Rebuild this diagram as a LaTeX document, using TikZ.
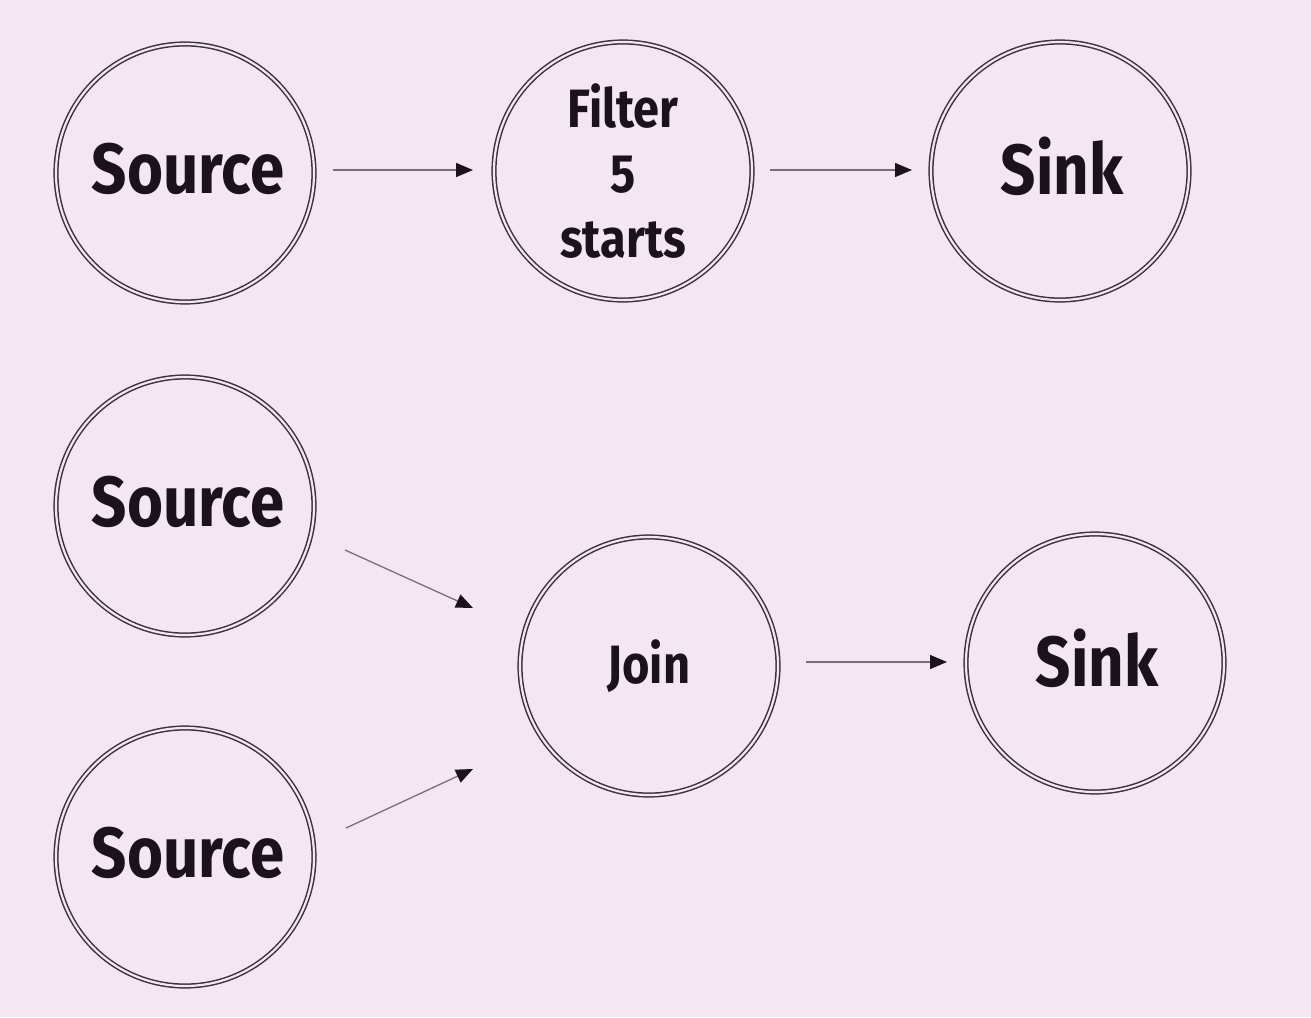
\documentclass[tikz,border=0pt]{standalone}
\usepackage{fontspec}
\setmainfont{Fira Sans}[UprightFont=* SemiBold,BoldFont=* Bold]
\newfontfamily\narrowfont{Fira Sans}[UprightFont=* Bold,FakeStretch=0.87]
\usetikzlibrary{arrows.meta}
\definecolor{bg}{HTML}{F3E7F4}
\definecolor{ring}{HTML}{3E343D}
\definecolor{ink}{HTML}{1C121C}
\definecolor{wire}{HTML}{7A6F79}
\begin{document}
\begin{tikzpicture}[x=1pt,y=-1pt,
  op/.style={circle,draw=ring,line width=1.5pt,double=bg,double distance=2.2pt,
    minimum size=258pt,inner sep=0pt,text=ink,align=center},
  big/.style={font=\narrowfont\fontsize{71}{85}\selectfont},
  small/.style={font=\narrowfont\fontsize{54}{65}\selectfont},
  flow/.style={draw=wire,line width=1.3pt,-{Triangle[length=17pt,width=14pt,color=ink]}}]
\fill[bg] (0,0) rectangle (1311,1017);
\useasboundingbox (0,0) rectangle (1311,1017);
\node[op,big] (s1) at (185,173) {\raisebox{10pt}{\hspace*{6pt}Source}};
\node[op,small] (f) at (623,171) {\raisebox{10pt}{\parbox{140pt}{\centering Filter\\5\\starts}}};
\node[op,big] (k1) at (1060,171) {\raisebox{10pt}{\hspace*{4pt}Sink}};
\node[op,big] (s2) at (185,506) {\raisebox{10pt}{\hspace*{6pt}Source}};
\node[op,big] (s3) at (185,857) {\raisebox{10pt}{\hspace*{6pt}Source}};
\node[op,small] (j) at (649,666) {Join};
\node[op,big] (k2) at (1095,663) {\raisebox{10pt}{\hspace*{4pt}Sink}};
\coordinate (a1) at (345,550);
\coordinate (a2) at (473,608);
\coordinate (b1) at (346,828);
\coordinate (b2) at (473,769);
\draw[flow] (333,170) -- (473,170);
\draw[flow] (770,170) -- (912,170);
\draw[flow] (806,662) -- (947,662);
\draw[flow] (a1) -- (a2);
\draw[flow] (b1) -- (b2);
\end{tikzpicture}
\end{document}
